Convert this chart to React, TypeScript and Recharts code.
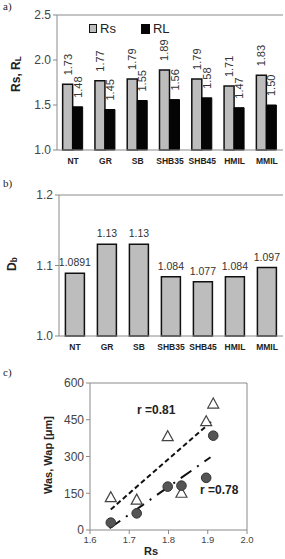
import React from "react";
import {
  Bar,
  BarChart,
  LabelList,
  ReferenceLine,
  Scatter,
  ScatterChart,
  XAxis,
  YAxis,
  ZAxis,
} from "recharts";

const categories = ["NT", "GR", "SB", "SHB35", "SHB45", "HMIL", "MMIL"];
const rsValues = [1.73, 1.77, 1.79, 1.89, 1.79, 1.71, 1.83];
const rlValues = [1.48, 1.45, 1.55, 1.56, 1.58, 1.47, 1.5];
const dbValues = [1.0891, 1.13, 1.13, 1.084, 1.077, 1.084, 1.097];

const rsScatter = [1.653, 1.719, 1.798, 1.833, 1.896, 1.914];
const wasValues = [132, 122, 381, 150, 442, 514];
const wapValues = [30, 68, 177, 181, 213, 385];
const wasTrendX = [1.653, 1.914];
const wasTrendY = [84, 449];
const wapTrendX = [1.65, 1.907];
const wapTrendY = [7, 297];

const tickFont = "'Liberation Sans', Arial, sans-serif";
const axisGray = "#8a8a8a";

const barData = categories.map((c, i) => ({ name: c, rs: rsValues[i], rl: rlValues[i], db: dbValues[i] }));
const wasData = rsScatter.map((x, i) => ({ x, y: wasValues[i] }));
const wapData = rsScatter.map((x, i) => ({ x, y: wapValues[i] }));
const wasTrend = wasTrendX.map((x, i) => ({ x, y: wasTrendY[i] }));
const wapTrend = wapTrendX.map((x, i) => ({ x, y: wapTrendY[i] }));

const VerticalLabel = (props: any) => {
  const { x, y, width, value } = props;
  const cx = x + width / 2 + 4;
  const cy = y - 9;
  return (
    <text
      x={cx}
      y={cy}
      transform={`rotate(-90 ${cx} ${cy})`}
      fontSize={11}
      fontFamily={tickFont}
      fill="#333"
      textAnchor="start"
    >
      {Number(value).toFixed(2)}
    </text>
  );
};

const TopLabel = (props: any) => {
  const { x, y, width, value } = props;
  return (
    <text x={x + width / 2} y={y - 7} fontSize={10.5} fontFamily={tickFont} fill="#333" textAnchor="middle">
      {String(value)}
    </text>
  );
};

const Triangle = (props: any) => {
  const { cx, cy } = props;
  return (
    <polygon
      points={`${cx},${cy - 6} ${cx - 5.5},${cy + 4} ${cx + 5.5},${cy + 4}`}
      fill="#fff"
      stroke="#444"
      strokeWidth={1.2}
    />
  );
};

const Dot = (props: any) => {
  const { cx, cy } = props;
  return <circle cx={cx} cy={cy} r={4.8} fill="#555" stroke="#333" strokeWidth={1} />;
};

const NoShape = () => <g />;

const catTick = { fontSize: 8.5, fontWeight: 700, fill: "#222", fontFamily: tickFont };
const numTick = { fontSize: 12, fill: "#444", fontFamily: tickFont };

function PanelLabel({ text, top }: { text: string; top: number }) {
  return (
    <div style={{ position: "absolute", left: 3, top, fontFamily: "'Liberation Serif', serif", fontSize: 11, color: "#222", lineHeight: 1 }}>
      {text}
    </div>
  );
}

// rotated axis title, centred on (cx, cy)
function AxisTitle({ cx, cy, size, children }: { cx: number; cy: number; size: number; children: React.ReactNode }) {
  return (
    <div
      style={{
        position: "absolute",
        left: cx,
        top: cy,
        transform: "translate(-50%, -50%) rotate(-90deg)",
        whiteSpace: "nowrap",
        fontFamily: tickFont,
        fontWeight: 700,
        fontSize: size,
        color: "#222",
        lineHeight: 1,
      }}
    >
      {children}
    </div>
  );
}

const subStyle: React.CSSProperties = { fontSize: "0.7em", verticalAlign: "-0.15em" };

export default function App() {
  return (
    <div style={{ position: "absolute", left: 0, top: 0, width: 285, height: 559, background: "#fff", overflow: "hidden" }}>
      <PanelLabel text="a)" top={1} />
      <div style={{ position: "absolute", left: 0, top: 0 }}>
        <BarChart width={285} height={175} data={barData} margin={{ top: 15, right: 2, left: 0, bottom: 5 }} barCategoryGap="17.5%" barGap={0}>
          <XAxis dataKey="name" tick={catTick} tickLine={false} stroke={axisGray} height={20} interval={0} />
          <YAxis
            domain={[1, 2.5]}
            ticks={[1, 1.5, 2, 2.5]}
            tickFormatter={(v: number) => v.toFixed(1)}
            tick={numTick}
            stroke={axisGray}
            tickSize={4}
            width={57}
          />
          <ReferenceLine y={2.5} stroke={axisGray} />
          <Bar dataKey="rs" fill="#bdbdbd" stroke="#111" strokeWidth={1.5} isAnimationActive={false}>
            <LabelList dataKey="rs" content={VerticalLabel} />
          </Bar>
          <Bar dataKey="rl" fill="#050505" stroke="#050505" strokeWidth={1} isAnimationActive={false}>
            <LabelList dataKey="rl" content={VerticalLabel} />
          </Bar>
        </BarChart>
      </div>
      <AxisTitle cx={16} cy={74} size={12}>
        Rs, R<span style={subStyle}>L</span>
      </AxisTitle>
      <div style={{ position: "absolute", left: 89, top: 21, display: "flex", alignItems: "center", fontFamily: tickFont, fontSize: 13, color: "#222" }}>
        <span style={{ width: 6, height: 7, background: "#bdbdbd", border: "1.5px solid #111", marginRight: 3 }} />
        <span style={{ marginRight: 25 }}>Rs</span>
        <span style={{ width: 9, height: 10, background: "#050505", marginRight: 3 }} />
        <span>RL</span>
      </div>

      <PanelLabel text="b)" top={178} />
      <div style={{ position: "absolute", left: 0, top: 180 }}>
        <BarChart width={285} height={180} data={barData} margin={{ top: 15, right: 2, left: 0, bottom: 4 }} barCategoryGap="20%">
          <XAxis dataKey="name" tick={catTick} tickLine={false} stroke={axisGray} height={20} interval={0} />
          <YAxis
            domain={[1, 1.2]}
            ticks={[1, 1.1, 1.2]}
            tickFormatter={(v: number) => v.toFixed(1)}
            tick={numTick}
            stroke={axisGray}
            tickSize={4}
            width={59}
          />
          <ReferenceLine y={1.2} stroke={axisGray} />
          <Bar dataKey="db" fill="#bdbdbd" stroke="#111" strokeWidth={1.5} isAnimationActive={false}>
            <LabelList dataKey="db" content={TopLabel} />
          </Bar>
        </BarChart>
      </div>
      <AxisTitle cx={12} cy={264} size={12}>
        D<span style={subStyle}>b</span>
      </AxisTitle>

      <PanelLabel text="c)" top={367} />
      <div style={{ position: "absolute", left: 0, top: 370 }}>
        <ScatterChart width={285} height={195} margin={{ top: 13, right: 38, left: 0, bottom: 0 }}>
          <XAxis
            type="number"
            dataKey="x"
            domain={[1.6, 2.0]}
            ticks={[1.6, 1.7, 1.8, 1.9, 2.0]}
            tickFormatter={(v: number) => v.toFixed(1)}
            tick={{ ...numTick, fontSize: 9.5 }}
            stroke={axisGray}
            tickSize={4}
            height={35}
          />
          <YAxis
            type="number"
            dataKey="y"
            domain={[0, 600]}
            ticks={[0, 150, 300, 450, 600]}
            tick={numTick}
            stroke={axisGray}
            tickSize={4}
            width={90}
          />
          <ZAxis range={[60, 60]} />
          <ReferenceLine y={600} stroke={axisGray} />
          <ReferenceLine x={2.0} stroke={axisGray} />
          <Scatter data={wasTrend} line={{ stroke: "#111", strokeWidth: 2, strokeDasharray: "5 3" }} shape={NoShape} isAnimationActive={false} />
          <Scatter data={wapTrend} line={{ stroke: "#111", strokeWidth: 2, strokeDasharray: "13 7 2 7" }} shape={NoShape} isAnimationActive={false} />
          <Scatter data={wasData} shape={Triangle} isAnimationActive={false} />
          <Scatter data={wapData} shape={Dot} isAnimationActive={false} />
        </ScatterChart>
      </div>
      <AxisTitle cx={48} cy={455} size={11}>
        Was, Wap [μm]
      </AxisTitle>
      <div style={{ position: "absolute", left: 144, top: 546, fontFamily: tickFont, fontWeight: 700, fontSize: 11, color: "#222", lineHeight: 1 }}>Rs</div>
      <div style={{ position: "absolute", left: 137, top: 403, fontFamily: tickFont, fontWeight: 700, fontSize: 12, color: "#222" }}>r =0.81</div>
      <div style={{ position: "absolute", left: 200, top: 483, fontFamily: tickFont, fontWeight: 700, fontSize: 12, color: "#222" }}>r =0.78</div>
    </div>
  );
}
